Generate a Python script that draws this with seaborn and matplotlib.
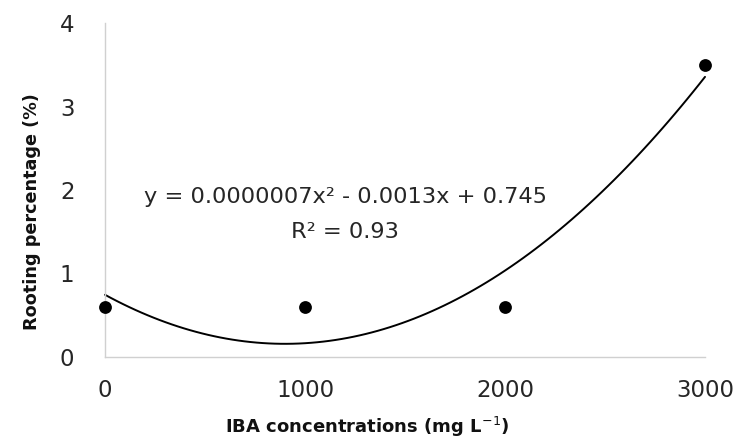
import matplotlib
matplotlib.use("Agg")
import matplotlib.pyplot as plt
import seaborn as sns
import pandas as pd

iba = [0, 1000, 2000, 3000]
rooting = [0.6, 0.6, 0.6, 3.5]
x_ticks = [0, 1000, 2000, 3000]
y_ticks = [0, 1, 2, 3, 4]
equation = "y = 0.0000007x² - 0.0013x + 0.745"
r2_text = "R² = 0.93"

sns.set_theme(style="white")
plt.rcParams['font.family'] = ['DejaVu Sans']

df = pd.DataFrame({"iba": iba, "rooting": rooting})

fig = plt.figure(figsize=(7.37, 4.41), dpi=100)
ax = fig.add_axes([0.1425, 0.1905, 0.8141, 0.7573])

sns.regplot(data=df, x="iba", y="rooting", order=2, ci=None, ax=ax, color="black",
            scatter_kws={"s": 85, "color": "black", "alpha": 1, "clip_on": False, "zorder": 3, "linewidths": 0},
            line_kws={"color": "black", "lw": 1.4, "clip_on": False})

ax.set_xlim(0, 3000)
ax.set_ylim(0, 4)
ax.set_xticks(x_ticks)
ax.set_yticks(y_ticks)
ax.tick_params(axis="both", length=0, labelsize=16.5, labelcolor="#262626")
ax.tick_params(axis="x", pad=16)
ax.tick_params(axis="y", pad=22)

for s in ["top", "right"]:
    ax.spines[s].set_visible(False)
for s in ["left", "bottom"]:
    ax.spines[s].set_color("#d0d0d0")
    ax.spines[s].set_linewidth(1.0)

ax.set_xlabel("IBA concentrations (mg L$^{-1}$)", fontsize=13, fontweight="bold", color="#111111")
ax.set_ylabel("Rooting percentage (%)", fontsize=12.7, fontweight="bold", color="#111111")
ax.xaxis.set_label_coords(0.437, -0.172)
ax.yaxis.set_label_coords(-0.106, 0.434)

ax.text(1200, 1.92, equation, ha="center", va="center", fontsize=16.2, color="#262626")
ax.text(1200, 1.50, r2_text, ha="center", va="center", fontsize=16.2, color="#262626")

fig.savefig("out.png", dpi=100)
